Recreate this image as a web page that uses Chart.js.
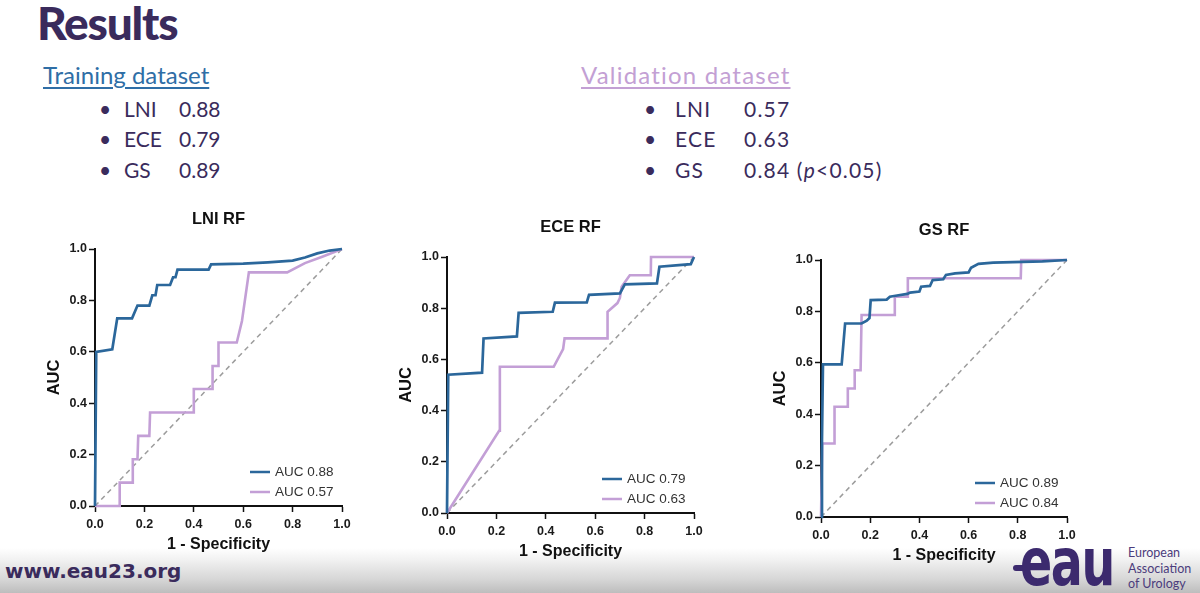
<!DOCTYPE html>
<html>
<head>
<meta charset="utf-8">
<script src="https://cdn.jsdelivr.net/npm/chart.js@4.4.1/dist/chart.umd.min.js"></script>
<style>
  html, body { margin:0; padding:0; background:#fff; }
  body { width:1200px; height:593px; position:relative; overflow:hidden; font-family: Lato, "Open Sans", sans-serif; }
  .abs { position:absolute; white-space:nowrap; }
  .purple { color:#3a2b5c; }
  #footer { position:absolute; left:0; top:548px; width:1200px; height:45px;
            background:linear-gradient(#ffffff 0%, #f2f2f2 25%, #d6d6d6 70%, #bdbdbd 100%); }
  canvas { position:absolute; }
</style>
</head>
<body>
<div id="footer"></div>

<div class="abs purple" style="left:37px; top:0px; font-size:46px; line-height:46px; font-weight:900; letter-spacing:-1.2px;">Results</div>

<div class="abs" style="left:43px; top:63px; font-size:24px; line-height:24px; color:#2f6ea6; text-decoration:underline; text-underline-offset:3px;">Training dataset</div>
<div class="abs" style="left:581px; top:63px; font-size:24px; line-height:24px; letter-spacing:1.2px; color:#c3a0d4; text-decoration:underline; text-underline-offset:3px;">Validation dataset</div>

<div id="trainList"></div>
<div id="valList"></div>

<div class="abs purple" style="left:5px; top:561px; font-family:'DejaVu Sans', sans-serif; font-weight:700; font-size:20px; line-height:20px;">www.eau23.org</div>

<div class="abs" style="left:1013px; top:565px; width:16px; height:6px; background:#3c2a6e; border-radius:3px;"></div>
<div class="abs" style="left:1020px; top:530px; font-family:'DejaVu Sans', sans-serif; font-weight:700; font-size:66px; line-height:66px; color:#3c2a6e; transform:scaleX(0.72); transform-origin:left top; letter-spacing:-2px;">eau</div>
<div class="abs" style="left:1128px; top:545px; font-size:12.5px; line-height:15.5px; color:#4b3c7c;">European<br>Association<br>of Urology</div>

<canvas id="c1"></canvas>
<canvas id="c2"></canvas>
<canvas id="c3"></canvas>

<script>
// ---------- Text data ----------
const trainNames = ['LNI', 'ECE', 'GS'];
const trainAuc = ['0.88', '0.79', '0.89'];
const valNames = ['LNI', 'ECE', 'GS'];
const valAuc = ['0.57', '0.63', '0.84'];
const valNotes = ['', '', ' (<i>p</i>&lt;0.05)'];

// ---------- Chart data ----------
const chartTitles = ['LNI RF', 'ECE RF', 'GS RF'];
const trainLabels = ['AUC 0.88', 'AUC 0.79', 'AUC 0.89'];
const valLabels = ['AUC 0.57', 'AUC 0.63', 'AUC 0.84'];
const tickLabels = ['0.0', '0.2', '0.4', '0.6', '0.8', '1.0'];
const xTitle = '1 - Specificity';
const yTitle = 'AUC';

// LNI
const lniTrainFpr = [0, 0.005, 0.07, 0.09, 0.15, 0.172, 0.22, 0.232, 0.245, 0.252, 0.304, 0.316, 0.326, 0.334, 0.46, 0.47, 0.6, 0.7, 0.8, 0.85, 0.9, 0.95, 1.0];
const lniTrainTpr = [0, 0.60, 0.61, 0.73, 0.73, 0.78, 0.78, 0.82, 0.82, 0.86, 0.86, 0.89, 0.89, 0.92, 0.92, 0.94, 0.943, 0.948, 0.955, 0.967, 0.983, 0.994, 1.0];
const lniValFpr = [0, 0.10, 0.10, 0.15, 0.153, 0.172, 0.175, 0.22, 0.223, 0.40, 0.40, 0.474, 0.476, 0.50, 0.50, 0.574, 0.595, 0.623, 0.778, 0.85, 0.92, 1.0];
const lniValTpr = [0, 0, 0.091, 0.091, 0.182, 0.182, 0.273, 0.273, 0.364, 0.364, 0.455, 0.455, 0.545, 0.545, 0.636, 0.636, 0.72, 0.909, 0.909, 0.945, 0.97, 1.0];

// ECE
const eceTrainFpr = [0, 0.005, 0.142, 0.148, 0.283, 0.29, 0.428, 0.437, 0.566, 0.575, 0.70, 0.72, 0.85, 0.86, 0.987, 1.0];
const eceTrainTpr = [0, 0.54, 0.548, 0.682, 0.69, 0.782, 0.786, 0.822, 0.823, 0.852, 0.858, 0.893, 0.897, 0.962, 0.972, 1.0];
const eceValFpr = [0, 0.211, 0.214, 0.432, 0.47, 0.476, 0.648, 0.65, 0.69, 0.70, 0.707, 0.74, 0.825, 0.826, 1.0];
const eceValTpr = [0, 0.321, 0.571, 0.571, 0.64, 0.682, 0.682, 0.786, 0.82, 0.84, 0.884, 0.929, 0.929, 1.0, 1.0];

// GS
const gsTrainFpr = [0, 0.004, 0.008, 0.084, 0.098, 0.165, 0.186, 0.197, 0.202, 0.267, 0.28, 0.297, 0.351, 0.362, 0.40, 0.407, 0.443, 0.454, 0.497, 0.508, 0.545, 0.60, 0.61, 0.64, 0.70, 0.90, 1.0];
const gsTrainTpr = [0, 0.30, 0.594, 0.594, 0.753, 0.753, 0.764, 0.774, 0.844, 0.846, 0.857, 0.86, 0.868, 0.873, 0.877, 0.896, 0.899, 0.922, 0.925, 0.942, 0.948, 0.952, 0.97, 0.985, 0.99, 0.995, 1.0];
const gsValFpr = [0, 0.005, 0.053, 0.055, 0.107, 0.109, 0.135, 0.137, 0.161, 0.165, 0.30, 0.30, 0.351, 0.353, 0.812, 0.814, 1.0];
const gsValTpr = [0, 0.286, 0.286, 0.429, 0.429, 0.5, 0.5, 0.571, 0.571, 0.786, 0.786, 0.857, 0.857, 0.929, 0.929, 1.0, 1.0];

const refFpr = [0, 1];
const refTpr = [0, 1];

// ---------- Lists ----------
function buildList(id, names, vals, notes, bulletX, nameX, valX, spacing) {
  const el = document.getElementById(id);
  const tops = [98, 128, 159];
  names.forEach((n, i) => {
    el.insertAdjacentHTML('beforeend',
      `<div class="abs purple" style="left:${bulletX}px; top:${tops[i]}px; font-size:21px; line-height:21px;">•</div>` +
      `<div class="abs purple" style="left:${nameX}px; top:${tops[i]}px; font-size:21px; line-height:21px; letter-spacing:${spacing}px;">${n}</div>` +
      `<div class="abs purple" style="left:${valX}px; top:${tops[i]}px; font-size:21px; line-height:21px; letter-spacing:${spacing}px;">${vals[i]}${notes ? notes[i] : ''}</div>`);
  });
}
buildList('trainList', trainNames, trainAuc, null, 99, 124, 179, 0);
buildList('valList', valNames, valAuc, valNotes, 644, 675, 744, 1.2);

// ---------- Charts ----------
const BLUE = '#2b679b';
const LILAC = '#c39fd6';
const FONT = '"Liberation Sans", Arial, Helvetica, sans-serif';

const insideLegend = {
  id: 'insideLegend',
  afterDatasetsDraw(chart) {
    const {ctx, chartArea} = chart;
    chart.data.datasets.filter(d => d.showInLegend).forEach((d, i) => {
      const y = chartArea.bottom - 34 + i * 20;
      ctx.save();
      ctx.strokeStyle = d.borderColor;
      ctx.lineWidth = 2.5;
      ctx.beginPath();
      ctx.moveTo(chartArea.right - 92, y);
      ctx.lineTo(chartArea.right - 72, y);
      ctx.stroke();
      ctx.fillStyle = '#333';
      ctx.font = '13.5px ' + FONT;
      ctx.textBaseline = 'middle';
      ctx.textAlign = 'left';
      ctx.fillText(d.label, chartArea.right - 67, y);
      ctx.restore();
    });
  }
};

function pts(xs, ys) { return xs.map((x, i) => ({x: x, y: ys[i]})); }

function makeChart(id, plot, title, trainLabel, valLabel, tf, tt, vf, vt) {
  const cv = document.getElementById(id);
  const W = plot.w + 80, H = plot.h + 100;
  cv.width = W; cv.height = H;
  cv.style.left = (plot.l - 60) + 'px';
  cv.style.top = (plot.t - 50) + 'px';
  cv.style.width = W + 'px'; cv.style.height = H + 'px';
  const axisCommon = {
    type: 'linear', min: 0, max: 1,
    border: {display: true, color: '#111', width: 2},
    grid: {display: true, drawOnChartArea: false, drawTicks: true, tickLength: 6, tickColor: '#111', tickWidth: 1.5},
  };
  new Chart(cv, {
    type: 'line',
    data: {
      datasets: [
        {label: trainLabel, data: pts(tf, tt), borderColor: BLUE, borderWidth: 2.7, showInLegend: true},
        {label: valLabel, data: pts(vf, vt), borderColor: LILAC, borderWidth: 2.6, showInLegend: true},
        {label: 'ref', data: pts(refFpr, refTpr), borderColor: '#9c9c9c', borderWidth: 1.5, borderDash: [5, 4]}
      ]
    },
    options: {
      responsive: false,
      animation: false,
      devicePixelRatio: 1,
      layout: {padding: {left: 0, right: 20, top: 0, bottom: 0}},
      elements: {point: {radius: 0}, line: {tension: 0, fill: false}},
      datasets: {line: {clip: 4}},
      plugins: {
        legend: {display: false},
        tooltip: {enabled: false},
        title: {display: true, fullSize: false, text: title, color: '#111',
                font: {family: FONT, size: 16.5, weight: 'bold', lineHeight: 1.2},
                padding: {top: 11, bottom: 19.2}}
      },
      scales: {
        x: Object.assign({}, axisCommon, {
          position: 'bottom',
          ticks: {stepSize: 0.2, padding: 5, color: '#1a1a1a', font: {family: FONT, size: 12.5, weight: 'bold'},
                  maxRotation: 0, callback: (v, i) => tickLabels[i]},
          title: {display: true, text: xTitle, color: '#111', font: {family: FONT, size: 16, weight: 'bold', lineHeight: 1.2},
                  padding: {top: 0, bottom: 1.4}},
          afterFit: s => { s.height = 50; }
        }),
        y: Object.assign({}, axisCommon, {
          position: 'left',
          ticks: {stepSize: 0.2, padding: 2, color: '#1a1a1a', font: {family: FONT, size: 12.5, weight: 'bold'},
                  callback: (v, i) => tickLabels[i]},
          title: {display: true, text: yTitle, color: '#111', font: {family: FONT, size: 16.5, weight: 'bold', lineHeight: 1.2},
                  padding: {top: 10, bottom: 0}},
          afterFit: s => { s.width = 60; }
        })
      }
    },
    plugins: [insideLegend]
  });
}

makeChart('c1', {l: 95, t: 249, w: 247, h: 257}, chartTitles[0], trainLabels[0], valLabels[0], lniTrainFpr, lniTrainTpr, lniValFpr, lniValTpr);
makeChart('c2', {l: 447, t: 257, w: 247, h: 256}, chartTitles[1], trainLabels[1], valLabels[1], eceTrainFpr, eceTrainTpr, eceValFpr, eceValTpr);
makeChart('c3', {l: 821, t: 260, w: 246, h: 257}, chartTitles[2], trainLabels[2], valLabels[2], gsTrainFpr, gsTrainTpr, gsValFpr, gsValTpr);
</script>
</body>
</html>
